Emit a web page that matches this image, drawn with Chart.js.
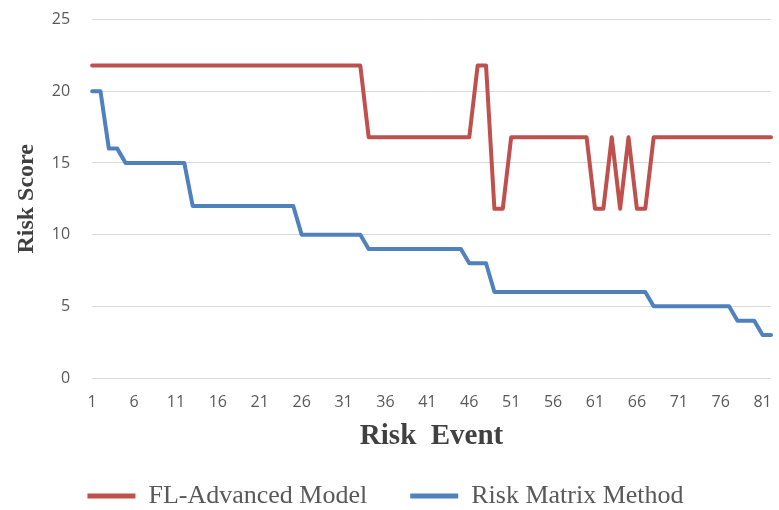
<!DOCTYPE html>
<html>
<head>
<meta charset="utf-8">
<script src="https://cdn.jsdelivr.net/npm/chart.js@4"></script>
<style>
  body { margin: 0; background: #ffffff; }
</style>
</head>
<body>
<canvas id="riskChart" width="779" height="510"></canvas>
<script>
// Risk events 1..82
const riskEvents = [1, 2, 3, 4, 5, 6, 7, 8, 9, 10, 11, 12, 13, 14, 15, 16, 17, 18, 19, 20,
  21, 22, 23, 24, 25, 26, 27, 28, 29, 30, 31, 32, 33, 34, 35, 36, 37, 38, 39, 40,
  41, 42, 43, 44, 45, 46, 47, 48, 49, 50, 51, 52, 53, 54, 55, 56, 57, 58, 59, 60,
  61, 62, 63, 64, 65, 66, 67, 68, 69, 70, 71, 72, 73, 74, 75, 76, 77, 78, 79, 80,
  81, 82];

// FL-Advanced Model scores
const flAdvanced = [21.8, 21.8, 21.8, 21.8, 21.8, 21.8, 21.8, 21.8, 21.8, 21.8,
  21.8, 21.8, 21.8, 21.8, 21.8, 21.8, 21.8, 21.8, 21.8, 21.8,
  21.8, 21.8, 21.8, 21.8, 21.8, 21.8, 21.8, 21.8, 21.8, 21.8,
  21.8, 21.8, 21.8, 16.8, 16.8, 16.8, 16.8, 16.8, 16.8, 16.8,
  16.8, 16.8, 16.8, 16.8, 16.8, 16.8, 21.8, 21.8, 11.8, 11.8,
  16.8, 16.8, 16.8, 16.8, 16.8, 16.8, 16.8, 16.8, 16.8, 16.8,
  11.8, 11.8, 16.8, 11.8, 16.8, 11.8, 11.8, 16.8, 16.8, 16.8,
  16.8, 16.8, 16.8, 16.8, 16.8, 16.8, 16.8, 16.8, 16.8, 16.8,
  16.8, 16.8];

// Risk Matrix Method scores
const riskMatrix = [20, 20, 16, 16, 15, 15, 15, 15, 15, 15,
  15, 15, 12, 12, 12, 12, 12, 12, 12, 12,
  12, 12, 12, 12, 12, 10, 10, 10, 10, 10,
  10, 10, 10, 9, 9, 9, 9, 9, 9, 9,
  9, 9, 9, 9, 9, 8, 8, 8, 6, 6,
  6, 6, 6, 6, 6, 6, 6, 6, 6, 6,
  6, 6, 6, 6, 6, 6, 6, 5, 5, 5,
  5, 5, 5, 5, 5, 5, 5, 4, 4, 4,
  3, 3];

const yTicks = [0, 5, 10, 15, 20, 25];

const textGray = "#595959";
const serif = "'Liberation Serif', 'Times New Roman', serif";

const ctx = document.getElementById("riskChart").getContext("2d");

const riskChart = new Chart(ctx, {
  type: "line",
  data: {
    labels: riskEvents,
    datasets: [
      {
        label: "FL-Advanced Model",
        data: flAdvanced,
        borderColor: "#C0504D",
        backgroundColor: "#C0504D",
        borderWidth: 4,
        pointRadius: 0,
        tension: 0,
        borderJoinStyle: "round",
        borderCapStyle: "round"
      },
      {
        label: "Risk Matrix Method",
        data: riskMatrix,
        borderColor: "#4F81BD",
        backgroundColor: "#4F81BD",
        borderWidth: 4,
        pointRadius: 0,
        tension: 0,
        borderJoinStyle: "round",
        borderCapStyle: "round"
      }
    ]
  },
  options: {
    responsive: false,
    animation: false,
    layout: {
      padding: { top: 0, right: 8, left: 0, bottom: 0 }
    },
    plugins: {
      tooltip: { enabled: false },
      legend: {
        position: "bottom",
        maxHeight: 70,
        labels: {
          boxWidth: 48,
          boxHeight: 5,
          padding: 43,
          color: textGray,
          font: { family: serif, size: 26 },
          generateLabels: function (chart) {
            const items = Chart.defaults.plugins.legend.labels.generateLabels(chart);
            items.forEach(item => { item.lineWidth = 0; });
            return items;
          }
        }
      }
    },
    scales: {
      x: {
        grid: { display: false, drawTicks: true, tickLength: 12, tickColor: "rgba(0,0,0,0)" },
        border: { display: false },
        ticks: {
          autoSkip: false,
          maxRotation: 0,
          padding: 3,
          color: textGray,
          font: { family: "'Open Sans', sans-serif", size: 16 },
          callback: function (value, index) {
            return index % 5 === 0 ? riskEvents[index] : "";
          }
        },
        title: {
          display: true,
          text: "Risk  Event",
          color: "#404040",
          font: { family: serif, size: 29, weight: "bold" },
          padding: { top: 4, bottom: -14 }
        }
      },
      y: {
        min: 0,
        max: 25,
        afterBuildTicks: function (axis) {
          axis.ticks = yTicks.map(v => ({ value: v }));
        },
        grid: { color: "#d9d9d9", lineWidth: 1, drawTicks: true, tickLength: 12, tickColor: "rgba(0,0,0,0)" },
        border: { display: false },
        ticks: {
          padding: 10,
          color: textGray,
          font: { family: "'Open Sans', sans-serif", size: 16 }
        },
        title: {
          display: true,
          text: "Risk Score",
          color: "#404040",
          font: { family: serif, size: 24, weight: "bold" },
          padding: { top: 12, bottom: 1 }
        }
      }
    }
  }
});
</script>
</body>
</html>
